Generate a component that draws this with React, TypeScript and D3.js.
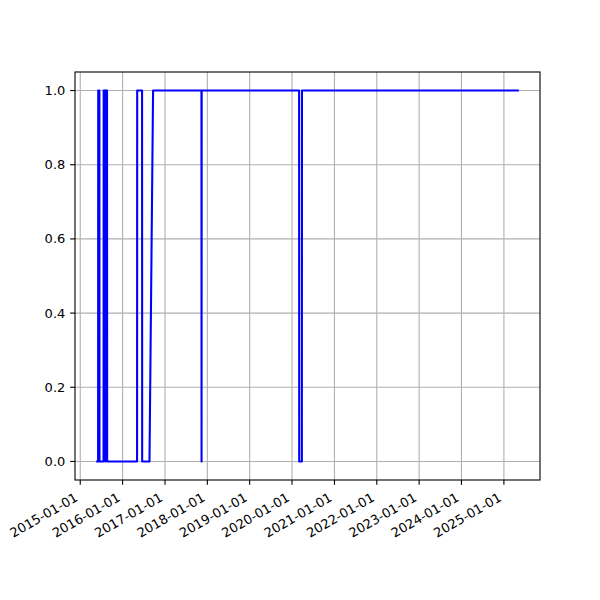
import React from "react";
import * as d3 from "d3";

const dates: string[] = [
  "2015-05-18", "2015-06-04", "2015-06-05", "2015-06-15", "2015-06-16",
  "2015-07-21", "2015-07-22", "2015-08-05", "2015-08-06", "2015-08-07",
  "2015-08-20", "2015-08-21", "2016-05-05", "2016-05-06", "2016-06-17",
  "2016-06-18", "2016-08-20", "2016-09-20", "2017-11-11", "2017-11-12",
  "2017-11-13", "2020-03-02", "2020-03-03", "2020-03-26", "2020-03-27",
  "2025-05-10",
];
const values: number[] = [
  0, 0, 1, 1, 0,
  0, 1, 1, 0, 1,
  1, 0, 0, 1, 1,
  0, 0, 1, 1, 0,
  1, 1, 0, 0, 1,
  1,
];
const xTickLabels: string[] = [
  "2015-01-01", "2016-01-01", "2017-01-01", "2018-01-01", "2019-01-01",
  "2020-01-01", "2021-01-01", "2022-01-01", "2023-01-01", "2024-01-01",
  "2025-01-01",
];
const yTicks: number[] = [0, 0.2, 0.4, 0.6, 0.8, 1.0];

export default function App() {
  const W = 600, H = 600;
  const left = 75, right = 540, top = 72, bottom = 480;
  const parse = d3.utcParse("%Y-%m-%d");
  const pts = dates.map((d, i) => ({ t: parse(d)!, v: values[i] }));
  const ext = d3.extent(pts, (p) => p.t.getTime()) as [number, number];
  const pad = (ext[1] - ext[0]) * 0.05;
  const x = d3.scaleUtc().domain([new Date(ext[0] - pad), new Date(ext[1] + pad)]).range([left, right]);
  const y = d3.scaleLinear().domain([-0.05, 1.05]).range([bottom, top]);
  const line = d3.line<{ t: Date; v: number }>().x((p) => x(p.t)).y((p) => y(p.v));
  const fs = 13;
  const font = "DejaVu Sans, sans-serif";
  const xt = xTickLabels.map((s) => ({ s, t: parse(s)! }));
  const h = 15;
  return (
    <svg width={W} height={H} style={{ display: "block", position: "absolute", left: 0, top: 0 }}>
      <rect width={W} height={H} fill="white" />
      <g stroke="#b0b0b0" strokeWidth={1.1}>
        {xt.map((d) => (
          <line key={d.s} x1={x(d.t)} x2={x(d.t)} y1={top} y2={bottom} />
        ))}
        {yTicks.map((v) => (
          <line key={v} x1={left} x2={right} y1={y(v)} y2={y(v)} />
        ))}
      </g>
      <path d={line(pts) || ""} fill="none" stroke="#0000ff" strokeWidth={2.08} strokeLinejoin="round" strokeLinecap="butt" />
      <rect x={left} y={top} width={right - left} height={bottom - top} fill="none" stroke="black" strokeWidth={1.1} />
      <g stroke="black" strokeWidth={1.1}>
        {xt.map((d) => (
          <line key={d.s} x1={x(d.t)} x2={x(d.t)} y1={bottom} y2={bottom + 4.86} />
        ))}
        {yTicks.map((v) => (
          <line key={v} x1={left - 4.86} x2={left} y1={y(v)} y2={y(v)} />
        ))}
      </g>
      <g fontFamily={font} fontSize={fs} fill="black">
        {yTicks.map((v) => (
          <text key={v} x={left - 9.7} y={y(v)} dy="0.35em" textAnchor="end">
            {d3.format(".1f")(v)}
          </text>
        ))}
        {xt.map((d) => (
          <text
            key={d.s}
            transform={`translate(${x(d.t) - h / 4},${bottom + 9.7 + 0.433 * h}) rotate(-30)`}
            dy="0.35em"
            textAnchor="end"
          >
            {d.s}
          </text>
        ))}
      </g>
    </svg>
  );
}
